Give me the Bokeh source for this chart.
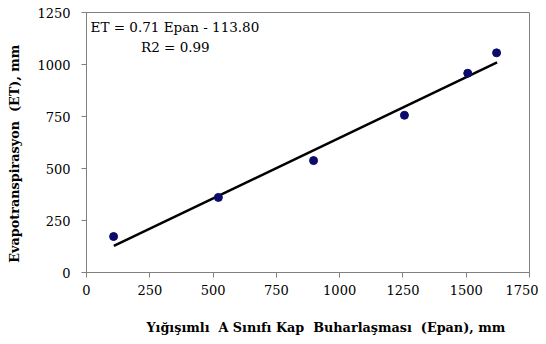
from bokeh.plotting import figure
from bokeh.models import FixedTicker, Label, Range1d
from bokeh.embed import file_html
from bokeh.resources import INLINE

# Data
epan = [107, 521, 897, 1256, 1506, 1620]
et = [173, 361, 538, 756, 958, 1056]
fit_x = [108, 1622]
fit_y = [128, 1010]
x_ticks = [0, 250, 500, 750, 1000, 1250, 1500, 1750]
y_ticks = [0, 250, 500, 750, 1000, 1250]
equation = "ET = 0.71 Epan - 113.80"
r2_text = "R2 = 0.99"
x_title = "Yığışımlı\u00a0 A Sınıfı Kap\u00a0 Buharlaşması\u00a0 (Epan), mm"
y_title = "Evapotranspirasyon\u00a0 (ET), mm"

FONT = "DejaVu Serif"
NBSP = "\u00a0"

p = figure(width=538, height=342, output_backend="svg", toolbar_location=None,
           x_range=Range1d(0, 1750), y_range=Range1d(0, 1250),
           min_border_left=86, min_border_right=9, min_border_top=12, min_border_bottom=70)

p.line(fit_x, fit_y, line_color="black", line_width=2.5)
p.scatter(epan, et, size=8, fill_color="#0b0b6b", line_color="#0b0b6b")

p.xgrid.visible = False
p.ygrid.visible = False
p.outline_line_color = "#808080"
p.outline_line_width = 1
p.background_fill_color = "white"
p.border_fill_color = "white"

for ax, ticks in ((p.xaxis[0], x_ticks), (p.yaxis[0], y_ticks)):
    ax.ticker = FixedTicker(ticks=ticks)
    ax.axis_line_color = "#808080"
    ax.major_tick_line_color = "#808080"
    ax.major_tick_out = 5
    ax.major_tick_in = 0
    ax.minor_tick_line_color = None
    ax.major_label_text_font = FONT
    ax.major_label_text_font_size = "13px"
    ax.major_label_text_color = "black"
    ax.axis_label_text_font = FONT
    ax.axis_label_text_font_style = "bold"
    ax.axis_label_text_font_size = "12.8px"
    ax.axis_label_text_color = "black"

# leading / trailing non-breaking spaces nudge the centred titles as in the original
p.xaxis[0].axis_label = NBSP * 8 + x_title
p.yaxis[0].axis_label = y_title + NBSP * 5
p.xaxis[0].major_label_standoff = 7
p.yaxis[0].major_label_standoff = 11
p.xaxis[0].axis_label_standoff = 22
p.yaxis[0].axis_label_standoff = 12

p.add_layout(Label(x=16, y=1180, text=equation, text_font=FONT, text_font_size="13.5px",
                   text_baseline="middle", text_align="left", text_color="black"))
p.add_layout(Label(x=351, y=1083, text=r2_text, text_font=FONT, text_font_size="13.5px",
                   text_baseline="middle", text_align="center", text_color="black"))

open("out.html", "w").write(file_html(p, INLINE))
